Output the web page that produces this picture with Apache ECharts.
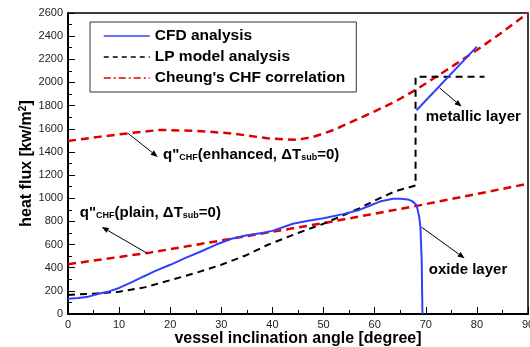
<!DOCTYPE html>
<html>
<head>
<meta charset="utf-8">
<script src="https://cdn.jsdelivr.net/npm/echarts@6/dist/echarts.min.js"></script>
<style>
  html, body { margin: 0; padding: 0; background: #fff; }
  #chart { width: 530px; height: 347px; }
</style>
</head>
<body>
<div id="chart"></div>
<script>
// CFD analysis, oxide layer
const cfdOxideX = [0, 2, 4, 6, 8, 10, 12.7, 14.7, 17, 20, 23, 26, 29, 32, 35, 38, 40, 44, 47, 50, 54, 57, 59, 61, 63.6, 65, 66.5, 67.3, 68.2, 68.7, 68.95, 69.2, 69.3, 69.35];
const cfdOxideY = [132, 138, 150, 175, 195, 225, 279, 322, 370, 425, 485, 540, 600, 650, 680, 700, 718, 780, 805, 827, 865, 899, 935, 971, 995, 995, 990, 975, 942, 841, 755, 467, 150, 0];
// CFD analysis, metallic layer
const cfdMetalX = [68.2, 80];
const cfdMetalY = [1760, 2310];
// LP model analysis
const lpX = [0, 5, 10, 15, 20, 25, 30, 35, 39, 45, 50, 57, 60, 64, 68, 68, 81.5];
const lpY = [165, 175, 193, 230, 292, 355, 425, 510, 596, 700, 780, 913, 980, 1060, 1110, 2050, 2050];
// Cheung's CHF correlation, plain
const chfPlainX = [0, 16, 39, 50, 68.5, 90];
const chfPlainY = [430, 530, 703, 785, 936, 1125];
// Cheung's CHF correlation, enhanced
const chfEnhX = [0, 6, 12, 18, 25, 31.6, 39, 44.7, 48, 52, 56, 60, 64, 68, 74, 80, 85, 90];
const chfEnhY = [1495, 1530, 1562, 1590, 1582, 1562, 1518, 1504, 1530, 1590, 1670, 1750, 1835, 1935, 2105, 2280, 2435, 2600];

const xTicks = [0, 10, 20, 30, 40, 50, 60, 70, 80, 90];
const yTicks = [0, 200, 400, 600, 800, 1000, 1200, 1400, 1600, 1800, 2000, 2200, 2400, 2600];

const zip = (xs, ys) => xs.map((x, i) => [x, ys[i]]);
const FONT = "'Liberation Sans', Arial, sans-serif";
const BLUE = "#3040ff";
const RED = "#dd0000";

const chart = echarts.init(document.getElementById("chart"));

chart.setOption({
  animation: false,
  grid: {
    left: 68, right: 2, top: 13, bottom: 33,
    outerBoundsMode: "none",
    show: true, borderColor: "#000", borderWidth: 1.5
  },
  legend: {
    orient: "vertical",
    left: 90, top: 22,
    padding: [6, 11, 6, 13],
    itemWidth: 46, itemHeight: 16, itemGap: 5,
    borderColor: "#333", borderWidth: 1,
    backgroundColor: "#fff",
    textStyle: { fontFamily: FONT, fontWeight: "bold", fontSize: 15.5, color: "#000", padding: [0, 0, 0, 0] },
    itemStyle: { opacity: 0 },
    data: [
      { name: "CFD analysis", itemStyle: { opacity: 0 }, lineStyle: { color: BLUE, width: 1.5, type: "solid" } },
      { name: "LP model analysis", itemStyle: { opacity: 0 }, lineStyle: { color: "#000", width: 1.5, type: [5, 4] } },
      { name: "Cheung's CHF correlation", itemStyle: { opacity: 0 }, lineStyle: { color: RED, width: 1.5, type: [7, 3, 2, 3] } }
    ]
  },
  xAxis: {
    type: "value", min: 0, max: 90, interval: 10,
    name: "vessel inclination angle [degree]",
    nameLocation: "middle", nameGap: 17, nameMoveOverlap: false,
    nameTextStyle: { fontFamily: FONT, fontWeight: "bold", fontSize: 16, color: "#000", verticalAlign: "top" },
    axisLine: { lineStyle: { color: "#000", width: 2 } },
    axisTick: { inside: true, length: 7, lineStyle: { color: "#000", width: 1 } },
    minorTick: { show: true, splitNumber: 2, length: 4, lineStyle: { color: "#000", width: 1 } },
    axisLabel: { fontFamily: FONT, fontSize: 11, color: "#222", margin: 5,
      formatter: v => (xTicks.includes(v) ? String(v) : "") },
    splitLine: { show: false }
  },
  yAxis: {
    type: "value", min: 0, max: 2600, interval: 200,
    name: "heat flux [kw/m{sup|2}]",
    nameLocation: "middle", nameGap: 32, nameRotate: 90, nameMoveOverlap: false,
    nameTextStyle: { fontFamily: FONT, fontWeight: "bold", fontSize: 16, color: "#000",
      rich: { sup: { fontFamily: FONT, fontWeight: "bold", fontSize: 10, color: "#000", verticalAlign: "top", padding: [0, 0, 8, 0] } } },
    axisLine: { show: true, lineStyle: { color: "#000", width: 2 } },
    axisTick: { inside: true, length: 7, lineStyle: { color: "#000", width: 1 } },
    minorTick: { show: true, splitNumber: 2, length: 4, lineStyle: { color: "#000", width: 1 } },
    axisLabel: { fontFamily: FONT, fontSize: 11, color: "#222", margin: 5,
      formatter: v => (yTicks.includes(v) ? String(v) : "") },
    splitLine: { show: false }
  },
  series: [
    { name: "CFD analysis", type: "line", symbol: "none", z: 4,
      data: zip(cfdOxideX, cfdOxideY), lineStyle: { color: BLUE, width: 2 }, itemStyle: { color: BLUE } },
    { name: "CFD analysis", type: "line", symbol: "none", z: 4,
      data: zip(cfdMetalX, cfdMetalY), lineStyle: { color: BLUE, width: 2 }, itemStyle: { color: BLUE } },
    { name: "LP model analysis", type: "line", symbol: "none", z: 3,
      data: zip(lpX, lpY), lineStyle: { color: "#000", width: 2, type: [7, 5] }, itemStyle: { color: "#000" } },
    { name: "Cheung's CHF correlation", type: "line", symbol: "none", z: 2,
      data: zip(chfPlainX, chfPlainY), lineStyle: { color: RED, width: 2.5, type: [8, 5] }, itemStyle: { color: RED } },
    { name: "Cheung's CHF correlation", type: "line", symbol: "none", z: 2,
      data: zip(chfEnhX, chfEnhY), lineStyle: { color: RED, width: 2.5, type: [8, 5] }, itemStyle: { color: RED } }
  ]
});

// annotations placed in data coordinates
const arrows = [
  [[11.7, 1562], [17.55, 1357]],
  [[15.4, 527], [6.6, 752]],
  [[72.7, 1953], [77.0, 1792]],
  [[69.2, 749], [77.6, 481]]
];
const labels = [
  { at: [18.6, 1374], text: 'q"{s|CHF}(enhanced, ΔT{s|sub}=0)' },
  { at: [2.3, 873], text: 'q"{s|CHF}(plain, ΔT{s|sub}=0)' },
  { at: [70.0, 1703], text: "metallic layer" },
  { at: [70.6, 380], text: "oxide layer" }
];

const px = p => chart.convertToPixel({ gridIndex: 0 }, p);
const graphics = [];
arrows.forEach(([a, b]) => {
  const p0 = px(a), p1 = px(b);
  const dx = p1[0] - p0[0], dy = p1[1] - p0[1];
  const len = Math.hypot(dx, dy), ux = dx / len, uy = dy / len;
  const hl = 7, hw = 2.8;
  const base = [p1[0] - ux * hl, p1[1] - uy * hl];
  graphics.push({ type: "line", z: 10, shape: { x1: p0[0], y1: p0[1], x2: base[0], y2: base[1] },
    style: { stroke: "#000", lineWidth: 1 } });
  graphics.push({ type: "polygon", z: 10, shape: { points: [p1,
      [base[0] - uy * hw, base[1] + ux * hw], [base[0] + uy * hw, base[1] - ux * hw]] },
    style: { fill: "#000" } });
});
labels.forEach(l => {
  const p = px(l.at);
  graphics.push({ type: "text", z: 10, style: {
    x: p[0], y: p[1], text: l.text, align: "left", verticalAlign: "middle",
    font: "bold 15px " + FONT, fill: "#000",
    rich: { s: { font: "bold 9px " + FONT, fill: "#000", verticalAlign: "bottom", padding: [6, 0, 0, 0] } }
  } });
});
chart.setOption({ graphic: graphics });
</script>
</body>
</html>
